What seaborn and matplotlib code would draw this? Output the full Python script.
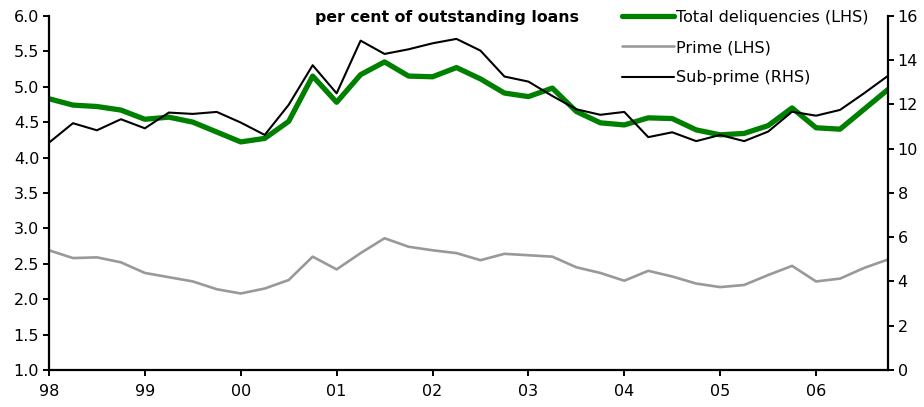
"""Delinquency rates on mortgage loans: total, prime and sub-prime."""
import matplotlib
matplotlib.use('Agg')
import matplotlib.pyplot as plt
import numpy as np
import pandas as pd
import seaborn as sns

# quarterly observations, 1998Q1 .. 2006Q4
quarters = 1998 + 0.25 * np.arange(36)

total = [4.83, 4.74, 4.72, 4.67, 4.54, 4.57, 4.50, 4.36, 4.22, 4.27,
         4.51, 5.15, 4.78, 5.17, 5.35, 5.15, 5.14, 5.27, 5.11, 4.91,
         4.86, 4.98, 4.65, 4.49, 4.46, 4.56, 4.55, 4.39, 4.32, 4.34,
         4.45, 4.70, 4.42, 4.40, 4.68, 4.96]
prime = [2.69, 2.58, 2.59, 2.52, 2.37, 2.31, 2.25, 2.14, 2.08, 2.15,
         2.27, 2.60, 2.42, 2.65, 2.86, 2.74, 2.69, 2.65, 2.55, 2.64,
         2.62, 2.60, 2.45, 2.37, 2.26, 2.40, 2.32, 2.22, 2.17, 2.20,
         2.34, 2.47, 2.25, 2.29, 2.44, 2.56]
subprime = [10.27, 11.15, 10.83, 11.33, 10.92, 11.63, 11.57, 11.66, 11.18, 10.62,
            11.98, 13.77, 12.50, 14.88, 14.28, 14.49, 14.76, 14.96, 14.43, 13.26,
            13.03, 12.38, 11.78, 11.53, 11.66, 10.52, 10.74, 10.34, 10.62, 10.34,
            10.77, 11.67, 11.49, 11.75, 12.50, 13.29]

year_ticks = list(range(1998, 2007))
year_labels = ['98', '99', '00', '01', '02', '03', '04', '05', '06']

df = pd.DataFrame({'date': quarters, 'total': total,
                   'prime': prime, 'subprime': subprime})

sns.set_style('white')
plt.rcParams['font.family'] = ['DejaVu Sans']
plt.rcParams['font.size'] = 11
plt.rcParams['text.color'] = 'black'

fig = plt.figure(figsize=(9.24, 4.07), dpi=100)
ax = fig.add_axes([0.053, 0.091, 0.908, 0.870])
ax2 = ax.twinx()

# left-hand series
sns.lineplot(data=df, x='date', y='total', ax=ax, color='#008000',
             linewidth=3.8, label='Total deliquencies (LHS)', legend=False)
sns.lineplot(data=df, x='date', y='prime', ax=ax, color='#999999',
             linewidth=1.9, label='Prime (LHS)', legend=False)
# right-hand series
sns.lineplot(data=df, x='date', y='subprime', ax=ax2, color='black',
             linewidth=1.5, label='Sub-prime (RHS)', legend=False)

ax.set_xlim(1998, 2006.75)
ax.set_ylim(1.0, 6.0)
ax2.set_ylim(0, 16)
ax.set_yticks(np.arange(1.0, 6.01, 0.5))
ax.set_yticklabels([f'{v:.1f}' for v in np.arange(1.0, 6.01, 0.5)])
ax2.set_yticks(range(0, 17, 2))
ax.set_xticks(year_ticks)
ax.set_xticklabels(year_labels)
ax.set_xlabel('')
ax.set_ylabel('')
ax2.set_ylabel('')

for a in (ax, ax2):
    a.spines['top'].set_visible(False)
    for s in ['left', 'bottom', 'right']:
        a.spines[s].set_linewidth(1.6)
        a.spines[s].set_color('black')
    a.tick_params(direction='out', length=4, width=1.4, colors='black',
                  labelsize=11.5, pad=3)
ax.spines['right'].set_visible(False)
ax2.spines['left'].set_visible(False)
ax2.spines['bottom'].set_visible(False)
ax.tick_params(axis='x', pad=6)
ax.tick_params(left=True, bottom=True)
ax2.tick_params(right=True)

ax.text(0.474, 0.995, 'per cent of outstanding loans', transform=ax.transAxes,
        ha='center', va='center', fontsize=11.3, fontweight='bold',
        color='black')

handles = ax.get_lines() + ax2.get_lines()
labels = [h.get_label() for h in handles]
ax2.legend(handles, labels, loc='upper left', bbox_to_anchor=(0.675, 1.035),
           frameon=False, handlelength=3.3, handletextpad=0.1,
           labelspacing=0.95, fontsize=11.5, borderaxespad=0,
           labelcolor='black')

fig.savefig('out.png', dpi=100)
plt.close(fig)
